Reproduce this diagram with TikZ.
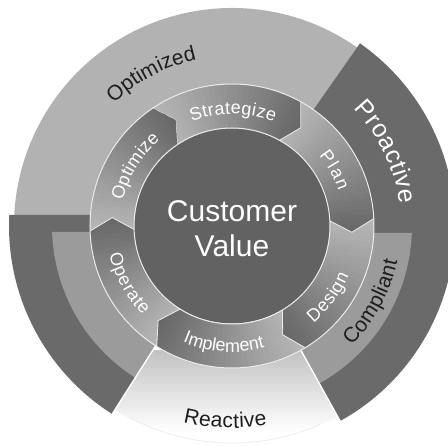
\documentclass[tikz,border=0pt]{standalone}
\usepackage{fontspec}
\setmainfont{Liberation Sans}
\definecolor{optband}{HTML}{B2B2B2}
\definecolor{darkband}{HTML}{6A6A6A}
\definecolor{midband}{HTML}{9B9B9B}
\definecolor{coreclr}{HTML}{626262}
\definecolor{seglight}{HTML}{B8B8B8}
\definecolor{segdark}{HTML}{666666}
\definecolor{reacttop}{HTML}{C2C2C2}
\definecolor{labeldark}{HTML}{1E1E1E}
\newcommand\ringseg[2]{%
  \begin{scope}
    \clip (#1:142) -- (#1-6:120) -- (#1:98) arc[start angle=#1, end angle=#2, radius=98]
      -- (#2-6:120) -- (#2:142) arc[start angle=#2, end angle=#1, radius=142] -- cycle;
    \foreach \i in {0,...,29}{
      \pgfmathsetmacro\angA{#1+2-(#1-#2+9)*\i/30}
      \pgfmathsetmacro\angB{#1+2-(#1-#2+9)*(\i+1.3)/30}
      \pgfmathsetmacro\pct{100*\i/29}
      \fill[segdark!\pct!seglight] (0,0) -- (\angA:150) arc[start angle=\angA, end angle=\angB, radius=150] -- cycle;
    }
  \end{scope}
  \draw[segedge] (#1:142) -- (#1-6:120) -- (#1:98);
}
% curved text: #1 colour, #2 size (pt), #3 baseline radius, #4 start angle, #5 end angle,
% #6 direction (1 clockwise, -1 anticlockwise), #7 node name prefix, #8 list char/width
\newcommand\curvetext[8]{%
  \gdef\ctW{0}\gdef\ctN{0}%
  \foreach \ch/\chw in {#8}{%
    \pgfmathsetmacro\ctTmp{\ctW+\chw/1000}\xdef\ctW{\ctTmp}%
    \pgfmathsetmacro\ctTmp{\ctN+1}\xdef\ctN{\ctTmp}}%
  \pgfmathsetmacro\ctGap{(abs((#4)-(#5))*pi/180*(#3) - \ctW*(#2))/(\ctN-1)}%
  \xdef\ctGap{\ctGap}%
  \gdef\ctS{0}%
  \foreach \ch/\chw [count=\k] in {#8}{%
    \pgfmathsetmacro\ctMid{\ctS+\chw/2000*(#2)}%
    \pgfmathsetmacro\ctAng{(#4)-(#6)*\ctMid/(#3)*57.29578}%
    \pgfmathsetmacro\ctRot{\ctAng-(#6)*90}%
    \node[anchor=base, inner sep=0pt, text=#1, font=\fontsize{#2}{#2}\selectfont,
      rotate=\ctRot] (#7-\k) at (\ctAng:#3) {\ch};%
    \pgfmathsetmacro\ctTmp{\ctS+\chw/1000*(#2)+\ctGap}\xdef\ctS{\ctTmp}}%
}
\tikzset{
  segedge/.style={white!92!black, line width=0.8},
  sideline/.style={white, line width=1.4},
}
\begin{document}
\begin{tikzpicture}[x=1pt,y=1pt]
\useasboundingbox (-232,-220) rectangle (216,226);
\clip (-232,-220) rectangle (216,226);
% outer bands
\fill[optband] (0,0) -- (55:218) arc[start angle=55, end angle=181, radius=218] -- cycle;
\fill[darkband] (0,0) -- (-61:223) arc[start angle=-61, end angle=55, radius=223] -- cycle;
\fill[darkband] (0,11) -- (177.17:223) arc[start angle=177.17, end angle=237.5, radius=223] -- (0,0) -- cycle;
\fill[midband] (0,-6) -- (181.91:180) arc[start angle=181.91, end angle=237.5, radius=180] -- (0,0) -- cycle;
\fill[midband] (0,-7) -- (-2.23:180) arc[start angle=-2.23, end angle=-61, radius=180] -- (0,0) -- cycle;
% reactive
\begin{scope}
  \clip (0,0) -- (-122.5:218) arc[start angle=-122.5, end angle=-61, radius=218] -- cycle;
  \shade[top color=reacttop, bottom color=white] (-140,-125) rectangle (140,-205);
\end{scope}
\draw[black!7, line width=0.8] (-118:217) arc[start angle=-118, end angle=-66, radius=217];
\draw[sideline] (-122.5:141) -- (-122.5:224);
\draw[sideline] (-61:141) -- (-61:224);
% process ring
\ringseg{124}{61}
\ringseg{61}{3}
\ringseg{3}{-59}
\ringseg{-59}{-122}
\ringseg{-122}{-178}
\ringseg{182}{124}
\draw[white!92!black, line width=1] (0,0) circle[radius=142];
% core
\fill[coreclr] (0,0) circle[radius=97.5];
\draw[white!92!black, line width=1] (0,0) circle[radius=98];
\node[anchor=base, text=white, font=\fontsize{30}{35}\selectfont, inner sep=0] (cust) at (0,4) {Customer};
\node[anchor=base, text=white, font=\fontsize{30}{35}\selectfont, inner sep=0] (val) at (0,-31) {Value};
% ring labels
\curvetext{white}{18}{112}{111}{68}{1}{strat}{S/667,t/278,r/333,a/556,t/278,e/556,g/556,i/222,z/500,e/556}
\curvetext{white}{18}{112}{39}{18}{1}{plan}{P/667,l/222,a/556,n/556}
\curvetext{white}{18}{112}{167}{130}{1}{optz}{O/778,p/556,t/278,i/222,m/833,i/222,z/500,e/556}
\curvetext{white}{18}{127}{-50}{-23}{-1}{des}{D/722,e/556,s/500,i/222,g/556,n/556}
\curvetext{white}{18}{126}{-113}{-75}{-1}{impl}{I/278,m/833,p/556,l/222,e/556,m/833,e/556,n/556,t/278}
\curvetext{white}{18}{126}{-167}{-135}{-1}{oper}{O/778,p/556,e/556,r/333,a/556,t/278,e/556}
% outer labels
\curvetext{labeldark}{21}{170}{134}{102}{1}{optd}{O/778,p/556,t/278,i/222,m/833,i/222,z/500,e/556,d/556}
\curvetext{white}{25}{169}{44}{7.5}{1}{proa}{P/667,r/333,o/556,a/556,c/500,t/278,i/222,v/500,e/556}
\curvetext{labeldark}{21}{169}{-45}{-12}{-1}{comp}{C/722,o/556,m/833,p/556,l/222,i/222,a/556,n/556,t/278}
\curvetext{labeldark}{21}{202}{-104}{-80}{-1}{reac}{R/722,e/556,a/556,c/500,t/278,i/222,v/500,e/556}
\end{tikzpicture}
\end{document}
